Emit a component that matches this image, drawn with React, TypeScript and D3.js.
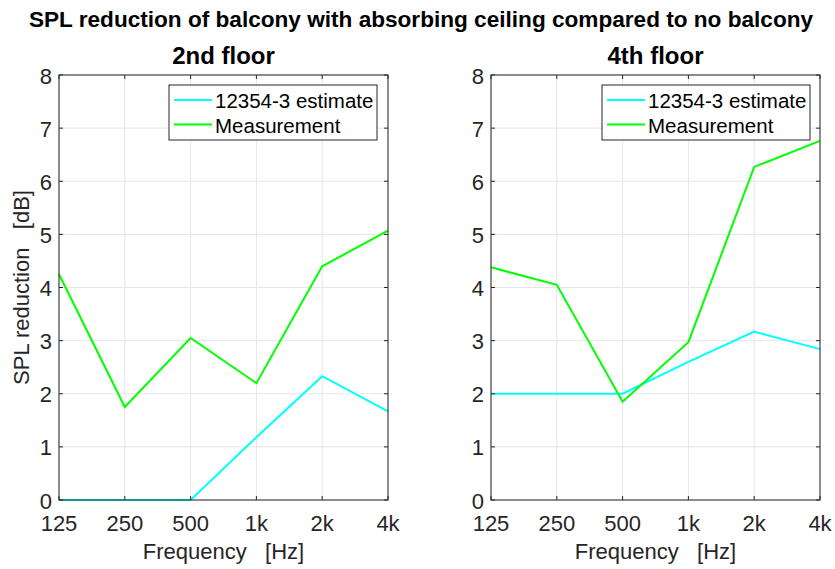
import React from "react";
import * as d3 from "d3";

const freqLabels = ["125", "250", "500", "1k", "2k", "4k"];
const yTicks = [0, 1, 2, 3, 4, 5, 6, 7, 8];
const seriesNames = ["12354-3 estimate", "Measurement"];
const seriesColors = ["#00ffff", "#00ff00"];

const floor2Estimate = [0, 0, 0, 1.18, 2.33, 1.67];
const floor2Measurement = [4.25, 1.75, 3.05, 2.2, 4.4, 5.07];
const floor4Estimate = [2, 2, 2, 2.6, 3.17, 2.84];
const floor4Measurement = [4.38, 4.05, 1.85, 2.97, 6.27, 6.76];

const panels = [
  { title: "2nd floor", left: 59, right: 388, legendX: 169, series: [floor2Estimate, floor2Measurement], ylabel: true },
  { title: "4th floor", left: 491, right: 820, legendX: 602, series: [floor4Estimate, floor4Measurement], ylabel: false },
];

const top = 75;
const bottom = 500;
const font = "'Liberation Sans', Arial, Helvetica, sans-serif";
const textColor = "#262626";

function Panel({ p }: { p: typeof panels[0] }) {
  const x = d3.scalePoint<string>().domain(freqLabels).range([p.left, p.right]);
  const y = d3.scaleLinear().domain([0, 8]).range([bottom, top]);
  const line = d3
    .line<number>()
    .x((_, i) => x(freqLabels[i]) as number)
    .y((d) => y(d));
  const axisColor = "#262626";
  return (
    <g>
      {freqLabels.map((f) => (
        <line key={"gx" + f} x1={x(f)} x2={x(f)} y1={top} y2={bottom} stroke="#e6e6e6" strokeWidth={1} />
      ))}
      {yTicks.map((t) => (
        <line key={"gy" + t} x1={p.left} x2={p.right} y1={y(t)} y2={y(t)} stroke="#e6e6e6" strokeWidth={1} />
      ))}
      {p.series.map((s, i) => (
        <path key={"s" + i} d={line(s) || ""} fill="none" stroke={seriesColors[i]} strokeWidth={2} />
      ))}
      <rect x={p.left} y={top} width={p.right - p.left} height={bottom - top} fill="none" stroke={axisColor} strokeWidth={1} />
      {freqLabels.map((f) => (
        <g key={"tx" + f}>
          <line x1={x(f)} x2={x(f)} y1={bottom} y2={bottom - 4} stroke={axisColor} />
          <line x1={x(f)} x2={x(f)} y1={top} y2={top + 4} stroke={axisColor} />
          <text x={x(f)} y={531} textAnchor="middle" fontSize={22} fontFamily={font} fill={textColor}>
            {f}
          </text>
        </g>
      ))}
      {yTicks.map((t) => (
        <g key={"ty" + t}>
          <line x1={p.left} x2={p.left + 4} y1={y(t)} y2={y(t)} stroke={axisColor} />
          <line x1={p.right} x2={p.right - 4} y1={y(t)} y2={y(t)} stroke={axisColor} />
          <text x={p.left - 7} y={y(t) + 8.5} textAnchor="end" fontSize={22} fontFamily={font} fill={textColor}>
            {t}
          </text>
        </g>
      ))}
      <text x={(p.left + p.right) / 2} y={559} textAnchor="middle" fontSize={22} fontFamily={font} fill={textColor} xmlSpace="preserve">
        {"Frequency   [Hz]"}
      </text>
      {p.ylabel && (
        <text
          transform={`translate(29,${(top + bottom) / 2}) rotate(-90)`}
          textAnchor="middle"
          fontSize={22}
          fontFamily={font}
          fill={textColor}
          xmlSpace="preserve"
        >
          {"SPL reduction   [dB]"}
        </text>
      )}
      <text x={(p.left + p.right) / 2} y={64} textAnchor="middle" fontSize={24} fontWeight="bold" fontFamily={font} fill="#000">
        {p.title}
      </text>
      <rect x={p.legendX} y={85} width={208} height={55} fill="#fff" stroke={axisColor} strokeWidth={1} />
      {seriesNames.map((n, i) => (
        <g key={"l" + i}>
          <line x1={p.legendX + 5} x2={p.legendX + 43} y1={100 + i * 24.5} y2={100 + i * 24.5} stroke={seriesColors[i]} strokeWidth={2} />
          <text x={p.legendX + 46} y={108 + i * 25} fontSize={20.5} fontFamily={font} fill="#000">
            {n}
          </text>
        </g>
      ))}
    </g>
  );
}

export default function App() {
  return (
    <svg width={835} height={569} style={{ position: "absolute", left: 0, top: 0, background: "#fff" }}>
      <rect width={835} height={569} fill="#fff" />
      <text x={421} y={27} textAnchor="middle" fontSize={22.6} fontWeight="bold" fontFamily={font} fill="#000">
        SPL reduction of balcony with absorbing ceiling compared to no balcony
      </text>
      {panels.map((p) => (
        <Panel key={p.title} p={p} />
      ))}
    </svg>
  );
}
